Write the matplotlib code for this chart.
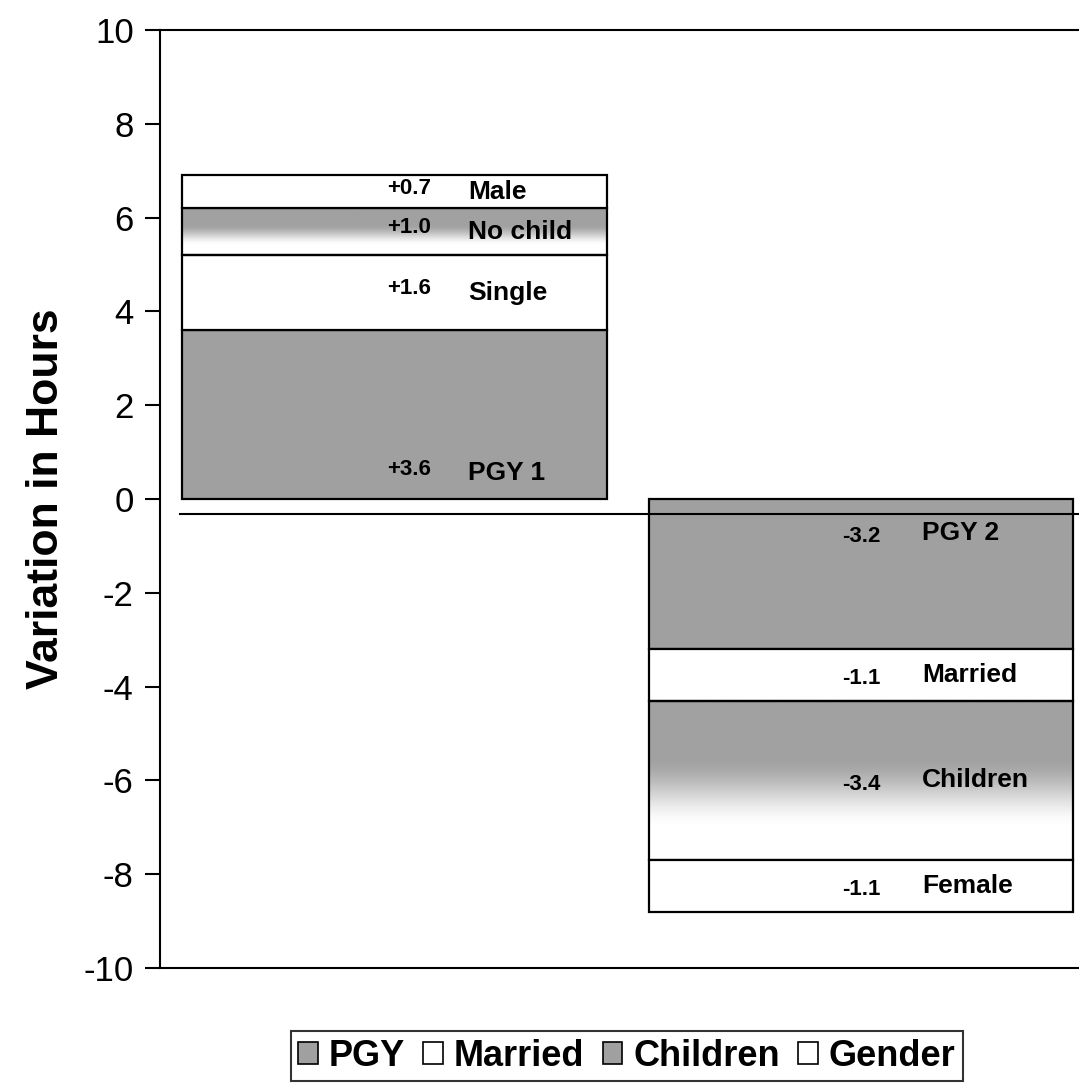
import numpy as np
import matplotlib
matplotlib.use("Agg")
import matplotlib.pyplot as plt
from matplotlib.patches import Patch

# ---- data ----
groups = ["Higher", "Lower"]
series = ["PGY", "Married", "Children", "Gender"]
values = {
    "PGY":      [3.6, -3.2],
    "Married":  [1.6, -1.1],
    "Children": [1.0, -3.4],
    "Gender":   [0.7, -1.1],
}
seg_names = {
    "PGY":      ["PGY 1", "PGY 2"],
    "Married":  ["Single", "Married"],
    "Children": ["No child", "Children"],
    "Gender":   ["Male", "Female"],
}
value_labels = {
    "PGY":      ["+3.6", "-3.2"],
    "Married":  ["+1.6", "-1.1"],
    "Children": ["+1.0", "-3.4"],
    "Gender":   ["+0.7", "-1.1"],
}
yticks = [-10, -8, -6, -4, -2, 0, 2, 4, 6, 8, 10]

plt.rcParams["font.family"] = ["Liberation Sans", "DejaVu Sans"]

fig = plt.figure(figsize=(10.79, 10.90), dpi=100)
ax = fig.add_axes([0.1483, 0.1119, 0.8517, 0.8606])

colors = {"PGY": "#a0a0a0", "Married": "#ffffff", "Children": "#a0a0a0", "Gender": "#ffffff"}
x = np.arange(len(groups))
width = 0.91
val_dx = [0.03, 0.0]
name_dx = [0.157, 0.131]

bottoms = np.zeros(len(groups))
for s in series:
    vals = np.array(values[s])
    bars = ax.bar(x, vals, width, bottom=bottoms,
                  color=colors[s] if s != "Children" else "none",
                  edgecolor="black", linewidth=1.6, zorder=3)
    if s == "Children":
        for b in bars:
            x0, y0 = b.get_x(), b.get_y()
            w, h = b.get_width(), b.get_height()
            ytop = max(y0, y0 + h)
            ybot = min(y0, y0 + h)
            t = np.linspace(0, 1, 256)[:, None]
            f = np.clip((t - 0.35) / 0.45, 0, 1)
            f = f * f * (3 - 2 * f)
            g = 0.63 + (1 - 0.63) * f
            img = np.repeat(g, 2, axis=1)
            im = ax.imshow(img, cmap="gray", vmin=0, vmax=1, aspect="auto",
                           extent=[x0, x0 + w, ybot, ytop], origin="upper",
                           zorder=2.5, interpolation="bilinear")
            im.set_clip_path(b)
    for i, b in enumerate(bars):
        y0 = b.get_y()
        h = b.get_height()
        yc = y0 + h / 2
        if s == "PGY":
            yc = 0.55 if h > 0 else -0.72
        cx = b.get_x() + b.get_width() / 2
        vy = yc + (0.08 if i == 0 else -0.08)
        ax.text(cx + val_dx[i], vy, value_labels[s][i], ha="center", va="center",
                fontsize=16, fontweight="bold", zorder=5)
        ax.text(cx + name_dx[i], yc, seg_names[s][i], ha="left", va="center",
                fontsize=19, fontweight="bold", zorder=5)
    bottoms = bottoms + vals

ax.set_ylim(-10, 10)
ax.set_xlim(-0.503, 1.467)
ax.set_yticks(yticks)
ax.set_yticklabels([str(v) for v in yticks], fontsize=25)
ax.set_xticks([])
ax.tick_params(axis="y", direction="out", length=11, width=1.5, pad=8)
for sp in ["left", "top", "bottom"]:
    ax.spines[sp].set_linewidth(1.5)
ax.spines["right"].set_visible(False)
ax.axhline(-0.32, xmin=0.022, xmax=1, color="black", linewidth=1.5, zorder=4)

ax.set_ylabel("Variation in Hours", fontsize=32, fontweight="bold", labelpad=12)

handles = [Patch(facecolor=colors[s], edgecolor="black", linewidth=1.2) for s in series]
leg = fig.legend(handles, series, loc="center", bbox_to_anchor=(0.581, 0.031), ncol=4,
                 frameon=True, fancybox=False, edgecolor="black",
                 prop={"weight": "bold", "size": 26}, handlelength=0.55, handleheight=0.55,
                 handletextpad=0.3, columnspacing=0.5, borderpad=0.2)
leg.get_frame().set_linewidth(1.5)

fig.savefig("out.png", dpi=100, facecolor="white")
